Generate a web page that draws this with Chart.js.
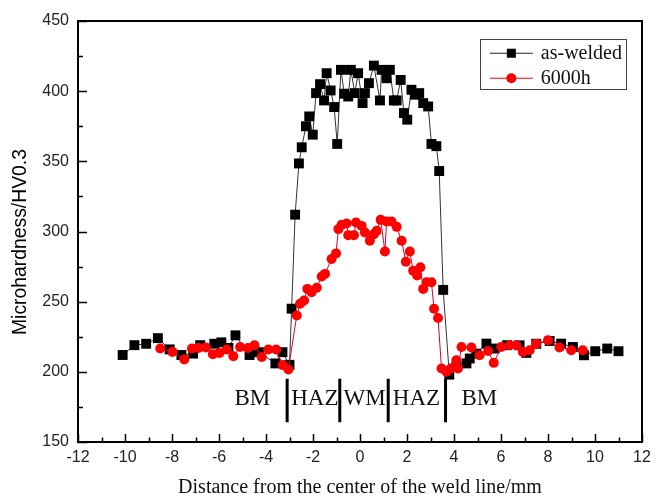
<!DOCTYPE html>
<html>
<head>
<meta charset="utf-8">
<script src="https://cdn.jsdelivr.net/npm/chart.js@4.4.0/dist/chart.umd.min.js"></script>
<style>
  html, body { margin: 0; padding: 0; background: #fff; }
  canvas { display: block; }
</style>
</head>
<body>
<canvas id="grafico" width="662" height="498"></canvas>
<script>
// datos (distancia en mm, dureza HV0.3)
const xSoldado = [-10.1, -9.6, -9.1, -8.6, -8.1, -7.6, -7.1, -6.8, -6.2, -5.9, -5.6, -5.3, -4.7, -4.3, -3.6, -3.3, -3.0,
    -2.91, -2.76, -2.6, -2.48, -2.3, -2.16, -2.01, -1.87, -1.7, -1.53, -1.42, -1.25, -1.1, -0.97, -0.81, -0.67, -0.5, -0.39,
    -0.22, -0.08, 0.11, 0.21, 0.38, 0.59, 0.85, 0.92, 1.13, 1.27, 1.44, 1.56, 1.73, 1.87, 2.01, 2.19, 2.33, 2.52, 2.69, 2.9,
    3.04, 3.25, 3.37, 3.54, 3.8, 4.1, 4.53, 4.67, 4.95, 5.38, 5.73, 6.26, 6.79, 7.08, 7.5, 8.07, 8.56, 9.06, 9.53, 10.01,
    10.52, 11.0];
const ySoldado = [212, 219, 220, 224, 216, 212, 213, 219, 220, 221, 217, 226, 212, 214, 206, 214, 205,
    245, 312, 348.5, 360, 375, 382, 369, 398.6, 405, 393.4, 412.8, 400.5, 388.7, 362.4, 415.2, 398.2, 396.2, 415.2,
    398.6, 412.8, 391.5, 398.6, 405.7, 418.2, 393.4, 415.2, 409.2, 415.2, 393.4, 393.4, 408, 384.4, 379.7, 401, 397.5, 398.6, 391.5, 389.1,
    362.4, 360.8, 343.1, 258.4, 198, 203.5, 206, 209.5, 213, 220.1, 216.6, 219, 218.9, 213.5, 220, 222, 220.1, 217.7, 211.8, 214.7,
    216.6, 214.7];

const x6000h = [-8.5, -7.98, -7.48, -7.15, -6.87, -6.56, -6.26, -5.98, -5.67, -5.39, -5.1, -4.77, -4.49, -4.18, -3.9, -3.57, -3.29, -3.05,
    -2.69, -2.55, -2.38, -2.24, -2.06, -1.84, -1.63, -1.49, -1.21, -1.02, -0.92, -0.78, -0.57, -0.5, -0.26, -0.17, 0.07, 0.21,
    0.42, 0.59, 0.71, 0.88, 1.06, 1.13, 1.34, 1.56, 1.77, 1.95, 2.12, 2.26, 2.43, 2.57, 2.69, 2.83, 3.04, 3.15, 3.32, 3.47,
    3.68, 3.86, 4.1, 4.17, 4.32, 4.74, 5.09, 5.45, 5.69, 6.01, 6.37, 6.65, 6.93, 7.22, 7.5, 8.0, 8.49, 8.99, 9.48];
const y6000h = [216.6, 214.2, 208.8, 216.6, 217, 217.3, 212.6, 213.5, 215.9, 211.1, 217.7, 217, 218.9, 210.6, 215.9, 215.9, 204.8, 201.7,
    240.2, 248.5, 250.8, 259.1, 256.7, 259.9, 267.9, 269.8, 280.4, 284.4, 301.7, 304.8, 305.7, 297.4, 297.4, 306.4, 304, 299.3,
    293.4, 298.1, 300.5, 308.3, 285.8, 307.1, 307.1, 303.3, 293.4, 278.5, 285.8, 272.1, 268.6, 274.5, 259.1, 263.8, 263.8, 245, 238.3, 202.4,
    200, 202.4, 208.3, 202.4, 217.7, 217.3, 211.8, 214.9, 206.4, 217.7, 218.9, 218.9, 214.2, 215.4, 220.1, 222.5, 217.3, 215.4, 215.4];

// zonas de la union soldada
const limitesZona = [-3.1, -0.86, 1.2, 3.64];
const nombresZona = ['BM', 'HAZ', 'WM', 'HAZ', 'BM'];
const centrosZona = [-4.58, -1.92, 0.2, 2.4, 5.08];

const ticksX = { min: -12, max: 12, paso: 2 };
const ticksY = { min: 150, max: 450, paso: 50 };

const etiquetasSerie = ['as-welded', '6000h'];

function aPuntos(xs, ys) {
    return xs.map((v, i) => ({ x: v, y: ys[i] }));
}

// marco y marcas hacia dentro
const marco = {
    id: 'marco',
    afterDatasetsDraw(chart) {
        const { ctx, chartArea: a, scales: { x, y } } = chart;
        ctx.save();
        ctx.strokeStyle = '#000';
        ctx.lineWidth = 1.5;
        ctx.beginPath();
        for (let v = ticksX.min; v <= ticksX.max; v += ticksX.paso / 2) {
            const px = Math.round(x.getPixelForValue(v)) + 0.5;
            const largo = (v % ticksX.paso === 0) ? 8 : 4.5;
            ctx.moveTo(px, a.bottom);
            ctx.lineTo(px, a.bottom - largo);
        }
        for (let v = ticksY.min; v <= ticksY.max; v += ticksY.paso / 2) {
            const py = Math.round(y.getPixelForValue(v)) + 0.5;
            const largo = (v % ticksY.paso === 0) ? 9 : 5;
            ctx.moveTo(a.left, py);
            ctx.lineTo(a.left + largo, py);
        }
        ctx.stroke();
        ctx.lineWidth = 2;
        ctx.strokeRect(a.left, a.top, a.right - a.left, a.bottom - a.top);

        // zonas
        ctx.lineWidth = 3;
        ctx.beginPath();
        limitesZona.forEach(v => {
            const px = x.getPixelForValue(v);
            ctx.moveTo(px, y.getPixelForValue(195));
            ctx.lineTo(px, y.getPixelForValue(164));
        });
        ctx.stroke();
        ctx.fillStyle = '#111';
        ctx.font = '23px "Liberation Serif", "Times New Roman", serif';
        ctx.textAlign = 'center';
        ctx.textBaseline = 'alphabetic';
        nombresZona.forEach((t, i) => {
            ctx.fillText(t, x.getPixelForValue(centrosZona[i]), y.getPixelForValue(176.5));
        });

        // titulo eje y
        ctx.save();
        ctx.translate(20, 242);
        ctx.rotate(-Math.PI / 2);
        ctx.font = '21px "Liberation Sans", Arial, sans-serif';
        const tituloY = 'Microhardness/HV0.3';
        const ancho = ctx.measureText(tituloY).width;
        ctx.scale(186 / ancho, 1);
        ctx.textAlign = 'center';
        ctx.textBaseline = 'middle';
        ctx.fillStyle = '#000';
        ctx.fillText(tituloY, 0, 0);
        ctx.restore();

        // leyenda
        const lx = x.getPixelForValue(5.1), ly = y.getPixelForValue(437);
        ctx.lineWidth = 1;
        ctx.strokeStyle = '#444';
        ctx.strokeRect(Math.round(lx) + 0.5, Math.round(ly) + 0.5, 146, 50);
        const filas = [
            { color: '#000', linea: '#222', forma: 'rect', y: ly + 14 },
            { color: '#f00', linea: '#f00', forma: 'circle', y: ly + 39 }
        ];
        ctx.font = '20px "Liberation Serif", "Times New Roman", serif';
        ctx.textAlign = 'left';
        ctx.textBaseline = 'middle';
        filas.forEach((f, i) => {
            ctx.strokeStyle = f.linea;
            ctx.beginPath();
            ctx.moveTo(lx + 10, f.y);
            ctx.lineTo(lx + 53, f.y);
            ctx.stroke();
            ctx.fillStyle = f.color;
            if (f.forma === 'rect') {
                ctx.fillRect(lx + 27, f.y - 4.5, 9, 9);
            } else {
                ctx.beginPath();
                ctx.arc(lx + 31.5, f.y, 5, 0, Math.PI * 2);
                ctx.fill();
            }
            ctx.fillStyle = '#111';
            ctx.fillText(etiquetasSerie[i], lx + 61, f.y + 1);
        });
        ctx.restore();
    }
};

new Chart(document.getElementById('grafico'), {
    type: 'scatter',
    data: {
        datasets: [{
            label: etiquetasSerie[0],
            data: aPuntos(xSoldado, ySoldado),
            showLine: true,
            borderColor: '#333',
            borderWidth: 1,
            pointStyle: 'rect',
            pointRadius: 7,
            pointBackgroundColor: '#000',
            pointBorderWidth: 0,
            order: 1
        }, {
            label: etiquetasSerie[1],
            data: aPuntos(x6000h, y6000h),
            showLine: true,
            borderColor: '#d8002a',
            borderWidth: 1,
            pointStyle: 'circle',
            pointRadius: 5,
            pointBackgroundColor: '#f00',
            pointBorderWidth: 0,
            order: 0
        }]
    },
    options: {
        responsive: false,
        animation: false,
        devicePixelRatio: 1,
        layout: { padding: { top: 21, right: 20, left: 0, bottom: 0 } },
        plugins: { legend: { display: false }, tooltip: { enabled: false } },
        scales: {
            x: {
                type: 'linear',
                min: ticksX.min,
                max: ticksX.max,
                afterFit: s => { s.height = 56; },
                border: { display: false },
                grid: { display: false, drawTicks: false },
                ticks: {
                    stepSize: ticksX.paso,
                    padding: 6,
                    color: '#222',
                    font: { family: '"Liberation Sans", Arial, sans-serif', size: 16 }
                },
                title: {
                    display: true,
                    text: 'Distance from the center of the weld line/mm',
                    color: '#111',
                    padding: 0,
                    font: { family: '"Liberation Serif", "Times New Roman", serif', size: 20, lineHeight: 1 }
                }
            },
            y: {
                type: 'linear',
                min: ticksY.min,
                max: ticksY.max,
                afterFit: s => { s.width = 78; },
                border: { display: false },
                grid: { display: false, drawTicks: false },
                ticks: {
                    stepSize: ticksY.paso,
                    padding: 9,
                    color: '#222',
                    font: { family: '"Liberation Sans", Arial, sans-serif', size: 16 }
                }
            }
        }
    },
    plugins: [marco]
});
</script>
</body>
</html>
